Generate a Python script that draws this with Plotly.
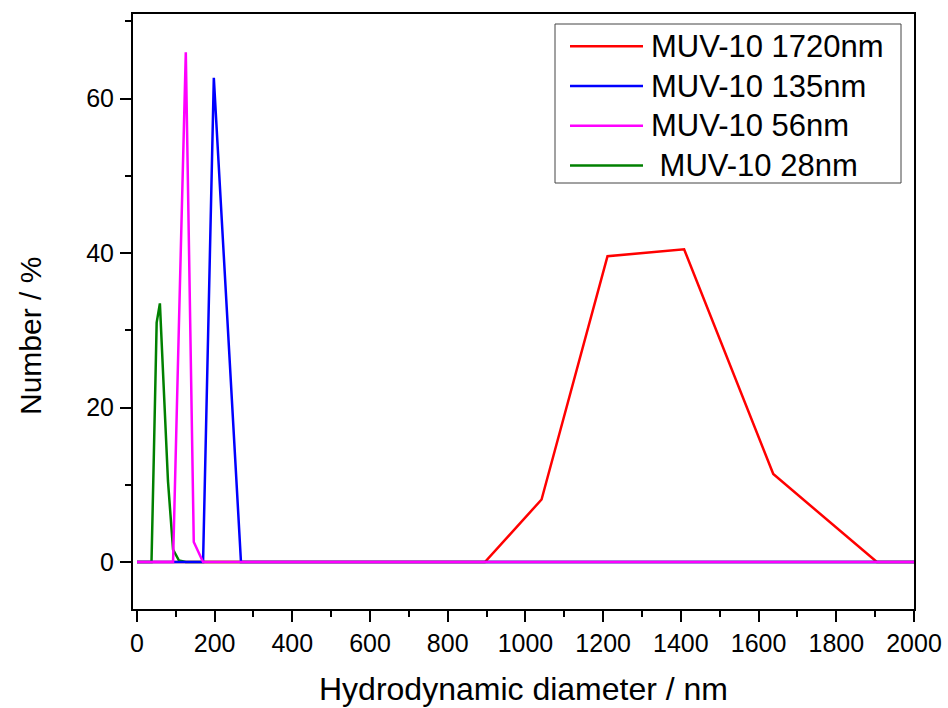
import plotly.graph_objects as go

# Hydrodynamic diameter bins (nm) of the DLS number distributions
size_nm = [0.4, 32.3, 37.6, 43.7, 50.9, 59.2, 68.8, 80.0, 93.1, 108.3,
           125.9, 146.4, 170.3, 198.0, 230.3, 267.9, 311.5, 362.2, 421.2, 489.8,
           569.6, 662.4, 770.2, 895.7, 1041.5, 1211.2, 1408.4, 1637.8, 1904.5, 2215.0,
           10000.0]

# Number (%) per bin for each sample
muv_1720 = [0, 0, 0, 0, 0, 0, 0, 0, 0, 0,
            0, 0, 0, 0, 0, 0, 0, 0, 0, 0,
            0, 0, 0, 0, 8.1, 39.6, 40.5, 11.4, 0, 0,
            0]
muv_135 = [0, 0, 0, 0, 0, 0, 0, 0, 0, 0,
           0, 0, 0, 62.7, 33.0, 0, 0, 0, 0, 0,
           0, 0, 0, 0, 0, 0, 0, 0, 0, 0,
           0]
muv_56 = [0, 0, 0, 0, 0, 0, 0, 0, 0, 31.0,
          66.0, 2.6, 0, 0, 0, 0, 0, 0, 0, 0,
          0, 0, 0, 0, 0, 0, 0, 0, 0, 0,
          0]
muv_28 = [0, 0, 0, 14.0, 31.0, 33.5, 22.5, 10.5, 1.6, 0.2,
          0, 0, 0, 0, 0, 0, 0, 0, 0, 0,
          0, 0, 0, 0, 0, 0, 0, 0, 0, 0,
          0]

labels = ["MUV-10 1720nm", "MUV-10 135nm", "MUV-10 56nm", " MUV-10 28nm"]
colors = ["#ff0000", "#0000ff", "#ff00ff", "#008000"]
x_ticks = [0, 200, 400, 600, 800, 1000, 1200, 1400, 1600, 1800, 2000]
y_ticks = [0, 20, 40, 60]
x_title = "Hydrodynamic diameter / nm"
y_title = "Number / %"

FONT = "Liberation Sans, Arial, sans-serif"
W, H = 948, 708
ML, MR, MT, MB = 133, 34, 14, 99
PW, PH = W - ML - MR, H - MT - MB


def px_to_paper(px, py):
    """Convert page pixel coordinates to paper coordinates of the plot area."""
    return (px - ML) / PW, (H - MB - py) / PH


fig = go.Figure()
# drawing order: red, green, blue, magenta (magenta ends up on top of the baseline)
for ys, idx in [(muv_1720, 0), (muv_28, 3), (muv_135, 1), (muv_56, 2)]:
    fig.add_trace(go.Scatter(
        x=size_nm, y=ys, mode="lines", name=labels[idx].strip(),
        line=dict(color=colors[idx], width=2.5), showlegend=False,
    ))

axis_common = dict(
    showline=True, linecolor="black", linewidth=2, mirror=True,
    ticks="outside", tickcolor="black", tickwidth=2, ticklen=11,
    showgrid=False, zeroline=False, automargin=False,
    tickfont=dict(family=FONT, size=25, color="black"),
)

fig.update_xaxes(
    range=[-10, 2000], tickvals=x_ticks,
    minor=dict(ticks="outside", dtick=100, tick0=0, ticklen=6, tickwidth=2,
               tickcolor="black", showgrid=False),
    title=dict(text=x_title,
               font=dict(family=FONT, size=32, color="black"), standoff=22),
    **axis_common,
)
fig.update_yaxes(
    range=[-6.08, 70.97], tickvals=y_ticks,
    minor=dict(ticks="outside", dtick=10, tick0=0, ticklen=6, tickwidth=2,
               tickcolor="black", showgrid=False),
    ticklabelstandoff=1,
    **axis_common,
)

annotations = []
# y-axis title, set a little below the middle of the axis
tx, ty = px_to_paper(30, 336)
annotations.append(dict(
    xref="paper", yref="paper", x=tx, y=ty, xanchor="center", yanchor="middle",
    text=y_title, textangle=-90, showarrow=False,
    font=dict(family=FONT, size=30, color="black"),
))

# legend box with line samples and labels
bx0, by0 = px_to_paper(555, 183)
bx1, by1 = px_to_paper(901, 24)
shapes = [dict(type="rect", xref="paper", yref="paper", x0=bx0, y0=by0, x1=bx1, y1=by1,
               line=dict(color="#444", width=1), fillcolor="white", layer="above")]
for i, (lab, col) in enumerate(zip(labels, colors)):
    row_y = 46.3 + 39.7 * i
    lx0, ly = px_to_paper(570, row_y)
    lx1, _ = px_to_paper(643, row_y)
    shapes.append(dict(type="line", xref="paper", yref="paper", x0=lx0, x1=lx1, y0=ly, y1=ly,
                       line=dict(color=col, width=2.5), layer="above"))
    tx, _ = px_to_paper(649, row_y)
    annotations.append(dict(
        xref="paper", yref="paper", x=tx, y=ly, xanchor="left", yanchor="middle",
        text=lab.replace(" ", "&nbsp;", 1) if lab.startswith(" ") else lab,
        showarrow=False, font=dict(family=FONT, size=31, color="black"),
    ))

fig.update_layout(
    width=W, height=H,
    margin=dict(l=ML, r=MR, t=MT, b=MB),
    paper_bgcolor="white", plot_bgcolor="white",
    font=dict(family=FONT, color="black"),
    showlegend=False,
    shapes=shapes, annotations=annotations,
)

fig.write_html("out.html")
